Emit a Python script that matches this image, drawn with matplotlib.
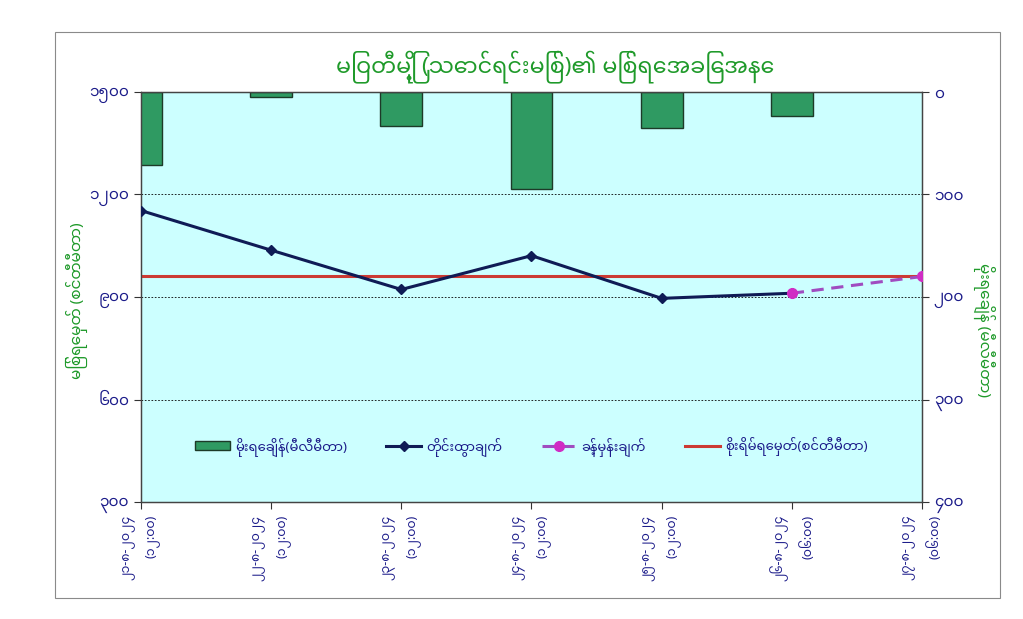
import matplotlib
matplotlib.use("Agg")
import matplotlib.pyplot as plt
from matplotlib.patches import Rectangle

# data
dates = ["၂၁-၈-၂၀၂၄", "၂၂-၈-၂၀၂၄", "၂၃-၈-၂၀၂၄", "၂၄-၈-၂၀၂၄",
         "၂၅-၈-၂၀၂၄", "၂၆-၈-၂၀၂၄", "၂၇-၈-၂၀၂၄"]
times = ["(၁၂:၀၀)", "(၁၂:၀၀)", "(၁၂:၀၀)", "(၁၂:၀၀)",
         "(၁၂:၀၀)", "(၀၆:၀၀)", "(၀၆:၀၀)"]
rainfall = [71, 5, 33, 95, 35, 23, 0]          # mm, right axis
observed = [1153, 1037, 922, 1021, 896, 911]   # cm, left axis
forecast = [911, 960]                          # last observed -> forecast
danger_level = 962

left_ticks = [300, 600, 900, 1200, 1500]
left_tick_labels = ["၃၀၀", "၆၀၀", "၉၀၀", "၁၂၀၀", "၁၅၀၀"]
right_ticks = [0, 100, 200, 300, 400]
right_tick_labels = ["၀", "၁၀၀", "၂၀၀", "၃၀၀", "၄၀၀"]

title = "မြဝတီမြို့ (သောင်ရင်းမြစ်)၏ မြစ်ရေအခြေအနေ"
left_label = "မြစ်ရေမှတ် (စင်တီမီတာ)"
right_label = "မိုးရေချိန် (မီလီမီတာ)"
leg_rain = "မိုးရေချိန်(မီလီမီတာ)"
leg_obs = "တိုင်းထွာချက်"
leg_fc = "ခန့်မှန်းချက်"
leg_danger = "စိုးရိမ်ရေမှတ်(စင်တီမီတာ)"

plt.rcParams['font.family'] = ['Noto Sans Myanmar', 'Padauk', 'Myanmar Text', 'DejaVu Sans']

navy = "#1c1c8a"
green = "#1f9a2a"

fig = plt.figure(figsize=(10.23, 6.19), dpi=100)
fig.patch.set_facecolor("white")
fig.patches.append(Rectangle((0.054, 0.034), 0.924, 0.914, transform=fig.transFigure,
                             fill=False, edgecolor="#8a8a8a", linewidth=0.8))

ax2 = fig.add_axes([0.1378, 0.189, 0.7635, 0.6624])
ax = ax2.twinx()
# bars behind the lines
ax2.set_zorder(1)
ax.set_zorder(2)
ax.patch.set_visible(False)
ax2.set_facecolor("#ccffff")

x = list(range(len(dates)))

# rainfall bars, hanging from the top on the right axis (skip empty days)
bx = [i for i, r in zip(x, rainfall) if r > 0]
bh = [r for r in rainfall if r > 0]
bars = ax2.bar(bx, bh, width=0.32, color="#2f9a62", edgecolor="#1d3a28",
               linewidth=1.0, label=leg_rain)
ax2.set_ylim(400, 0)
ax2.yaxis.tick_right()
ax2.set_yticks(right_ticks)
ax2.set_yticklabels(right_tick_labels)

# water level
l1, = ax.plot(x[:len(observed)], observed, color="#0f1b55", linewidth=2.2,
              marker="D", markersize=5, label=leg_obs, zorder=3)
l2, = ax.plot(x[len(observed) - 1:], forecast, color="#a04cc0", linewidth=2.2,
              linestyle=(0, (4, 2.5)), marker="o", markersize=7,
              markerfacecolor="#d02cc4", markeredgecolor="#d02cc4", label=leg_fc, zorder=4)
l3 = ax.axhline(danger_level, color="#cc3a33", linewidth=2.2, label=leg_danger, zorder=2)

ax.set_ylim(300, 1500)
ax.yaxis.tick_left()
ax.set_yticks(left_ticks)
ax.set_yticklabels(left_tick_labels)
ax.grid(axis="y", color="black", linestyle=(0, (2, 2)), linewidth=0.6)
ax2.set_xlim(0, len(dates) - 1)

ax2.set_xticks(x)
ax2.set_xticklabels([d + "\n" + t for d, t in zip(dates, times)], rotation=90,
                    ha="center", va="top", multialignment="right",
                    fontsize=9, fontweight="bold", color=navy, linespacing=1.9)

for a in (ax, ax2):
    a.tick_params(axis="y", labelsize=11, colors=navy, length=5, width=0.8)
    a.tick_params(axis="y", color="#333333")
    for s in a.spines.values():
        s.set_color("#444444")
        s.set_linewidth(0.9)
ax2.tick_params(axis="x", length=5, color="#333333", pad=4)
for lab in ax.get_yticklabels() + ax2.get_yticklabels():
    lab.set_fontweight("bold")

fig.text(0.5425, 0.893, title, ha="center", va="center", fontsize=16,
         fontweight="bold", color=green)
fig.text(0.075, 0.515, left_label, ha="center", va="center", rotation=90,
         fontsize=11, color=green)
fig.text(0.962, 0.467, right_label, ha="center", va="center", rotation=270,
         fontsize=11, color=green)

ax.legend([bars, l1, l2, l3], [leg_rain, leg_obs, leg_fc, leg_danger],
          loc="center", bbox_to_anchor=(0.5, 0.134), ncol=4, frameon=False,
          fontsize=9.5, handlelength=2.6, columnspacing=3.0, handletextpad=0.4,
          labelcolor=navy)

fig.savefig("out.png", dpi=100)
